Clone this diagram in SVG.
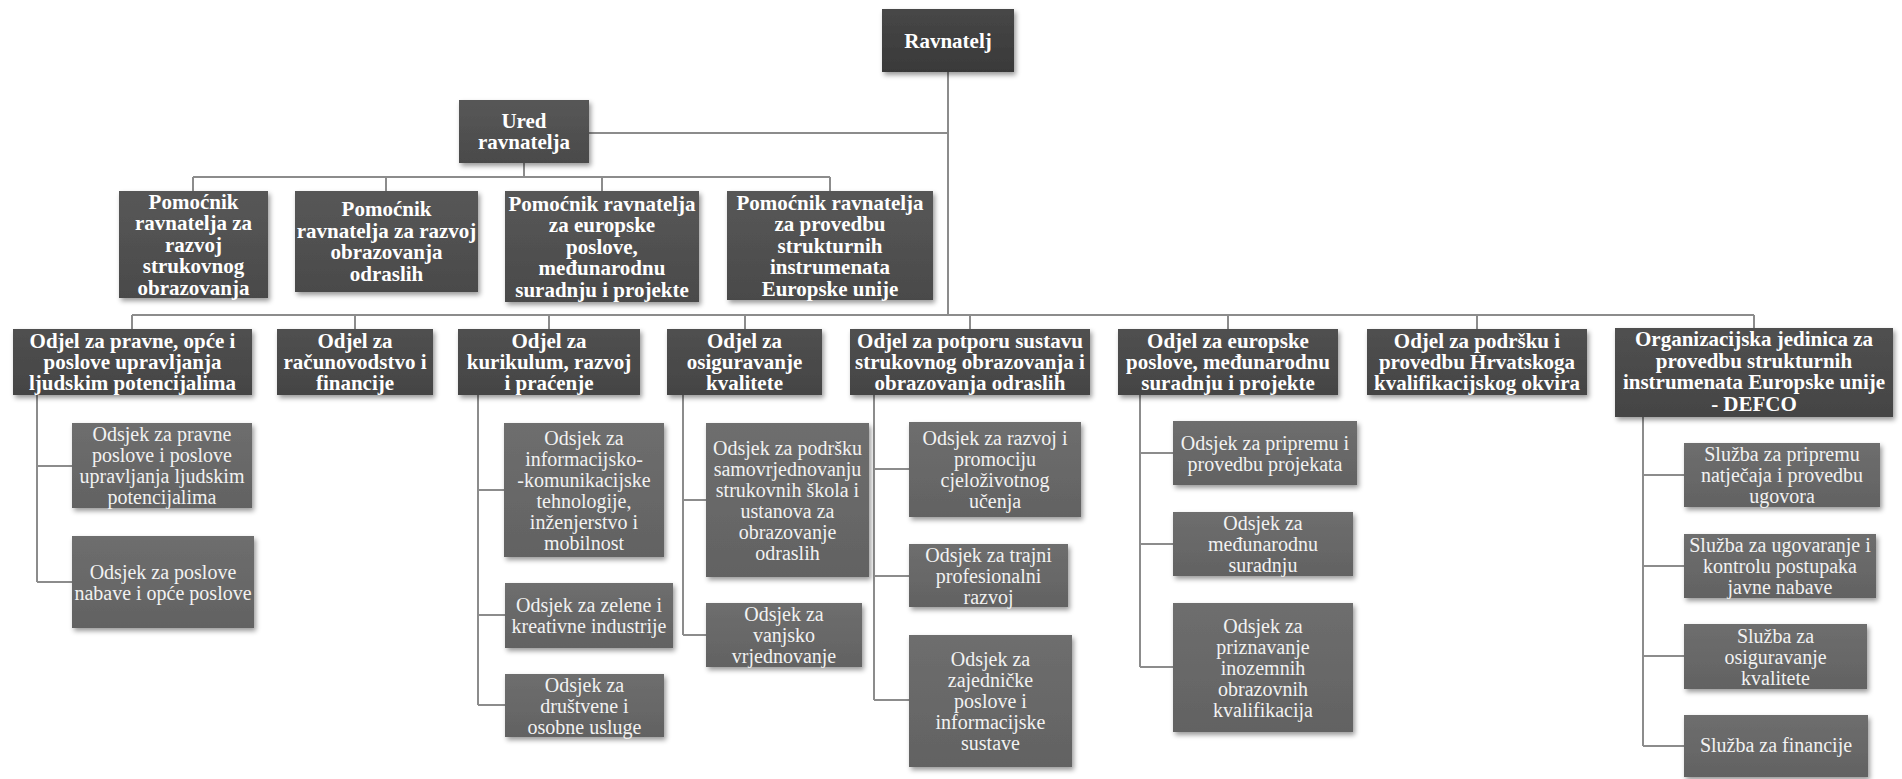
<svg xmlns="http://www.w3.org/2000/svg" width="1902" height="779" viewBox="0 0 1902 779">
<defs>
<filter id="sh" x="-10%" y="-10%" width="125%" height="135%">
<feDropShadow dx="2" dy="3" stdDeviation="2.5" flood-color="#000" flood-opacity="0.4"/>
</filter>
<linearGradient id="gTop" x1="0" y1="0" x2="0" y2="1">
<stop offset="0" stop-color="#474747"/><stop offset="1" stop-color="#393939"/>
</linearGradient>
<linearGradient id="gMid" x1="0" y1="0" x2="0" y2="1">
<stop offset="0" stop-color="#575757"/><stop offset="1" stop-color="#4a4a4a"/>
</linearGradient>
<linearGradient id="gDept" x1="0" y1="0" x2="0" y2="1">
<stop offset="0" stop-color="#505050"/><stop offset="1" stop-color="#444444"/>
</linearGradient>
<linearGradient id="gSub" x1="0" y1="0" x2="0" y2="1">
<stop offset="0" stop-color="#6e6e6e"/><stop offset="1" stop-color="#626262"/>
</linearGradient>
</defs>
<style>
rect{filter:url(#sh)}
.top{fill:url(#gTop)}
.mid{fill:url(#gMid)}
.dept{fill:url(#gDept)}
.sub{fill:url(#gSub)}
.b{font-family:"Liberation Serif","Times New Roman",serif;font-weight:bold;font-size:21px;fill:#ffffff;text-anchor:middle}
.r{font-family:"Liberation Serif","Times New Roman",serif;font-size:20px;fill:#f2f2f2;text-anchor:middle}
.c{fill:none;stroke:#8c8c8c;stroke-width:2}
</style>
<rect width="1902" height="779" fill="#ffffff" style="filter:none"/>

<g id="connectors">
<path class="c" d="M948 72V315M589 133H948"/>
<path class="c" d="M524 163V177M193 177H830M193 177V191M386 177V191M602 177V191M830 177V191"/>
<path class="c" d="M132 315H1754M132 315V329M355 315V329M549 315V329M745 315V329M970 315V329M1228 315V329M1477 315V329M1754 315V328"/>
<path class="c" d="M37 395V582M37 466H72M37 582H72"/>
<path class="c" d="M478 395V705M478 490H504M478 615H505M478 705H505"/>
<path class="c" d="M683 395V635M683 500H706M683 635H706"/>
<path class="c" d="M874 395V700M874 469H909M874 576H909M874 700H909"/>
<path class="c" d="M1140 395V667M1140 453H1173M1140 544H1173M1140 667H1173"/>
<path class="c" d="M1643 417V746M1643 475H1684M1643 566H1684M1643 656H1684M1643 746H1684"/>
</g>

<g id="ravnatelj"><rect class="top" x="882" y="9" width="132" height="63"/>
<text class="b" x="948" y="48">Ravnatelj</text></g>

<g id="ured"><rect class="mid" x="459" y="100" width="130" height="63"/>
<text class="b" x="524" y="128">Ured<tspan x="524" dy="21">ravnatelja</tspan></text></g>

<g id="pom1"><rect class="mid" x="119" y="191" width="149" height="107"/>
<text class="b" x="193.5" y="208.5">Pomoćnik<tspan x="193.5" dy="21.5">ravnatelja za</tspan><tspan x="193.5" dy="21.5">razvoj</tspan><tspan x="193.5" dy="21.5">strukovnog</tspan><tspan x="193.5" dy="21.5">obrazovanja</tspan></text></g>

<g id="pom2"><rect class="mid" x="295" y="191" width="183" height="101"/>
<text class="b" x="386.5" y="216">Pomoćnik<tspan x="386.5" dy="21.5">ravnatelja za razvoj</tspan><tspan x="386.5" dy="21.5">obrazovanja</tspan><tspan x="386.5" dy="21.5">odraslih</tspan></text></g>

<g id="pom3"><rect class="mid" x="505" y="191" width="194" height="111"/>
<text class="b" x="602" y="210.5">Pomoćnik ravnatelja<tspan x="602" dy="21.5">za europske</tspan><tspan x="602" dy="21.5">poslove,</tspan><tspan x="602" dy="21.5">međunarodnu</tspan><tspan x="602" dy="21.5">suradnju i projekte</tspan></text></g>

<g id="pom4"><rect class="mid" x="727" y="191" width="206" height="109"/>
<text class="b" x="830" y="209.5">Pomoćnik ravnatelja<tspan x="830" dy="21.5">za provedbu</tspan><tspan x="830" dy="21.5">strukturnih</tspan><tspan x="830" dy="21.5">instrumenata</tspan><tspan x="830" dy="21.5">Europske unije</tspan></text></g>

<g id="odjel1"><rect class="dept" x="13" y="329" width="239" height="66"/>
<text class="b" x="132.5" y="348">Odjel za pravne, opće i<tspan x="132.5" dy="21">poslove upravljanja</tspan><tspan x="132.5" dy="21">ljudskim potencijalima</tspan></text></g>

<g id="odjel2"><rect class="dept" x="277" y="329" width="156" height="66"/>
<text class="b" x="355" y="348">Odjel za<tspan x="355" dy="21">računovodstvo i</tspan><tspan x="355" dy="21">financije</tspan></text></g>

<g id="odjel3"><rect class="dept" x="458" y="329" width="182" height="66"/>
<text class="b" x="549" y="348">Odjel za<tspan x="549" dy="21">kurikulum, razvoj</tspan><tspan x="549" dy="21">i praćenje</tspan></text></g>

<g id="odjel4"><rect class="dept" x="667" y="329" width="155" height="66"/>
<text class="b" x="744.5" y="348">Odjel za<tspan x="744.5" dy="21">osiguravanje</tspan><tspan x="744.5" dy="21">kvalitete</tspan></text></g>

<g id="odjel5"><rect class="dept" x="850" y="329" width="240" height="66"/>
<text class="b" x="970" y="348">Odjel za potporu sustavu<tspan x="970" dy="21">strukovnog obrazovanja i</tspan><tspan x="970" dy="21">obrazovanja odraslih</tspan></text></g>

<g id="odjel6"><rect class="dept" x="1118" y="329" width="220" height="66"/>
<text class="b" x="1228" y="348">Odjel za europske<tspan x="1228" dy="21">poslove, međunarodnu</tspan><tspan x="1228" dy="21">suradnju i projekte</tspan></text></g>

<g id="odjel7"><rect class="dept" x="1367" y="329" width="220" height="66"/>
<text class="b" x="1477" y="348">Odjel za podršku i<tspan x="1477" dy="21">provedbu Hrvatskoga</tspan><tspan x="1477" dy="21">kvalifikacijskog okvira</tspan></text></g>

<g id="defco"><rect class="dept" x="1615" y="328" width="278" height="89"/>
<text class="b" x="1754" y="346">Organizacijska jedinica za<tspan x="1754" dy="21.5">provedbu strukturnih</tspan><tspan x="1754" dy="21.5">instrumenata Europske unije</tspan><tspan x="1754" dy="21.5">- DEFCO</tspan></text></g>

<g id="o1a"><rect class="sub" x="72" y="423" width="180" height="85"/>
<text class="r" x="162" y="441">Odsjek za pravne<tspan x="162" dy="21">poslove i poslove</tspan><tspan x="162" dy="21">upravljanja ljudskim</tspan><tspan x="162" dy="21">potencijalima</tspan></text></g>

<g id="o1b"><rect class="sub" x="72" y="536" width="182" height="92"/>
<text class="r" x="163" y="578.5">Odsjek za poslove<tspan x="163" dy="21">nabave i opće poslove</tspan></text></g>

<g id="o3a"><rect class="sub" x="504" y="423" width="160" height="134"/>
<text class="r" x="584" y="444.5">Odsjek za<tspan x="584" dy="21">informacijsko-</tspan><tspan x="584" dy="21">-komunikacijske</tspan><tspan x="584" dy="21">tehnologije,</tspan><tspan x="584" dy="21">inženjerstvo i</tspan><tspan x="584" dy="21">mobilnost</tspan></text></g>

<g id="o3b"><rect class="sub" x="505" y="583" width="168" height="65"/>
<text class="r" x="589" y="612">Odsjek za zelene i<tspan x="589" dy="21">kreativne industrije</tspan></text></g>

<g id="o3c"><rect class="sub" x="505" y="674" width="159" height="63"/>
<text class="r" x="584.5" y="691.5">Odsjek za<tspan x="584.5" dy="21">društvene i</tspan><tspan x="584.5" dy="21">osobne usluge</tspan></text></g>

<g id="o4a"><rect class="sub" x="706" y="423" width="163" height="154"/>
<text class="r" x="787.5" y="454.5">Odsjek za podršku<tspan x="787.5" dy="21">samovrjednovanju</tspan><tspan x="787.5" dy="21">strukovnih škola i</tspan><tspan x="787.5" dy="21">ustanova za</tspan><tspan x="787.5" dy="21">obrazovanje</tspan><tspan x="787.5" dy="21">odraslih</tspan></text></g>

<g id="o4b"><rect class="sub" x="706" y="603" width="156" height="64"/>
<text class="r" x="784" y="621">Odsjek za<tspan x="784" dy="21">vanjsko</tspan><tspan x="784" dy="21">vrjednovanje</tspan></text></g>

<g id="o5a"><rect class="sub" x="909" y="422" width="172" height="95"/>
<text class="r" x="995" y="445">Odsjek za razvoj i<tspan x="995" dy="21">promociju</tspan><tspan x="995" dy="21">cjeloživotnog</tspan><tspan x="995" dy="21">učenja</tspan></text></g>

<g id="o5b"><rect class="sub" x="909" y="544" width="159" height="63"/>
<text class="r" x="988.5" y="561.5">Odsjek za trajni<tspan x="988.5" dy="21">profesionalni</tspan><tspan x="988.5" dy="21">razvoj</tspan></text></g>

<g id="o5c"><rect class="sub" x="909" y="635" width="163" height="132"/>
<text class="r" x="990.5" y="666">Odsjek za<tspan x="990.5" dy="21">zajedničke</tspan><tspan x="990.5" dy="21">poslove i</tspan><tspan x="990.5" dy="21">informacijske</tspan><tspan x="990.5" dy="21">sustave</tspan></text></g>

<g id="o6a"><rect class="sub" x="1173" y="421" width="184" height="64"/>
<text class="r" x="1265" y="449.5">Odsjek za pripremu i<tspan x="1265" dy="21">provedbu projekata</tspan></text></g>

<g id="o6b"><rect class="sub" x="1173" y="512" width="180" height="64"/>
<text class="r" x="1263" y="530">Odsjek za<tspan x="1263" dy="21">međunarodnu</tspan><tspan x="1263" dy="21">suradnju</tspan></text></g>

<g id="o6c"><rect class="sub" x="1173" y="603" width="180" height="129"/>
<text class="r" x="1263" y="632.5">Odsjek za<tspan x="1263" dy="21">priznavanje</tspan><tspan x="1263" dy="21">inozemnih</tspan><tspan x="1263" dy="21">obrazovnih</tspan><tspan x="1263" dy="21">kvalifikacija</tspan></text></g>

<g id="s8a"><rect class="sub" x="1684" y="443" width="196" height="64"/>
<text class="r" x="1782" y="461">Služba za pripremu<tspan x="1782" dy="21">natječaja i provedbu</tspan><tspan x="1782" dy="21">ugovora</tspan></text></g>

<g id="s8b"><rect class="sub" x="1684" y="534" width="192" height="64"/>
<text class="r" x="1780" y="552">Služba za ugovaranje i<tspan x="1780" dy="21">kontrolu postupaka</tspan><tspan x="1780" dy="21">javne nabave</tspan></text></g>

<g id="s8c"><rect class="sub" x="1684" y="624" width="183" height="65"/>
<text class="r" x="1775.5" y="642.5">Služba za<tspan x="1775.5" dy="21">osiguravanje</tspan><tspan x="1775.5" dy="21">kvalitete</tspan></text></g>

<g id="s8d"><rect class="sub" x="1684" y="715" width="184" height="62"/>
<text class="r" x="1776" y="752">Služba za financije</text></g>
</svg>
